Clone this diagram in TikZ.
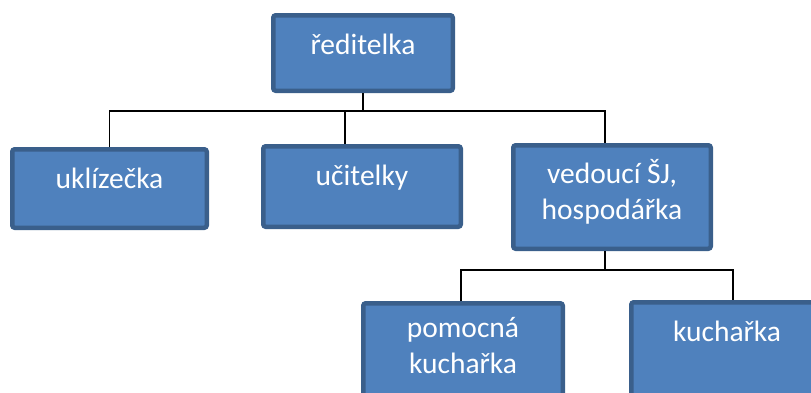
\documentclass[tikz,border=0pt]{standalone}
\usepackage{fontspec}
\setmainfont{Carlito}
\definecolor{boxfill}{HTML}{4F81BD}
\definecolor{boxline}{HTML}{3A5F8B}

\begin{document}
\begin{tikzpicture}[x=1pt, y=-1pt, line width=1.5pt,
            box/.style={draw=boxline, fill=boxfill, line width=4.5pt, rounded corners=2.5pt, inner sep=0},
            txt/.style={text=white, align=center, inner sep=0, anchor=north, yshift=-16pt,
                font=\fontsize{29.5}{36}\selectfont, execute at begin node=\strut}]
        \useasboundingbox (0,0) rectangle (811,392);
        \clip (0,0) rectangle (811,392);

        \node (dir) [box, minimum width=179.5pt, minimum height=75.5pt, label={[txt]north:ředitelka}] at (363,53) {};
        \node (uk)  [box, minimum width=194.5pt, minimum height=78.5pt, label={[txt]north:uklízečka}] at (109.5,188.5) {};
        \node (uc)  [box, minimum width=197.5pt, minimum height=80.5pt, label={[txt]north:učitelky}] at (362,186.5) {};
        \node (ved) [box, minimum width=197.5pt, minimum height=103.5pt, label={[txt]north:vedoucí ŠJ,\\hospodářka}] at (612,197) {};
        \node (pom) [box, minimum width=199.5pt, minimum height=104.5pt, label={[txt]north:pomocná\\kuchařka}] at (463,355.5) {};
        \node (kuc) [box, minimum width=191.5pt, minimum height=105.5pt, label={[txt]north:kuchařka}] at (727,355) {};

        \coordinate (hub1) at (363,111);
        \coordinate (hub2) at (605,270);
        \draw (dir.south) -- (hub1);
        \draw (uk.north) |- (hub1) -| ([xshift=-7pt]ved.north);
        \draw ([xshift=-17pt]uc.north) -- ([xshift=-17pt]uc.north |- hub1);
        \draw ([xshift=-7pt]ved.south) -- (hub2);
        \draw ([xshift=-2pt]pom.north) |- (hub2) -| ([xshift=6pt]kuc.north);
    \end{tikzpicture}
\end{document}
